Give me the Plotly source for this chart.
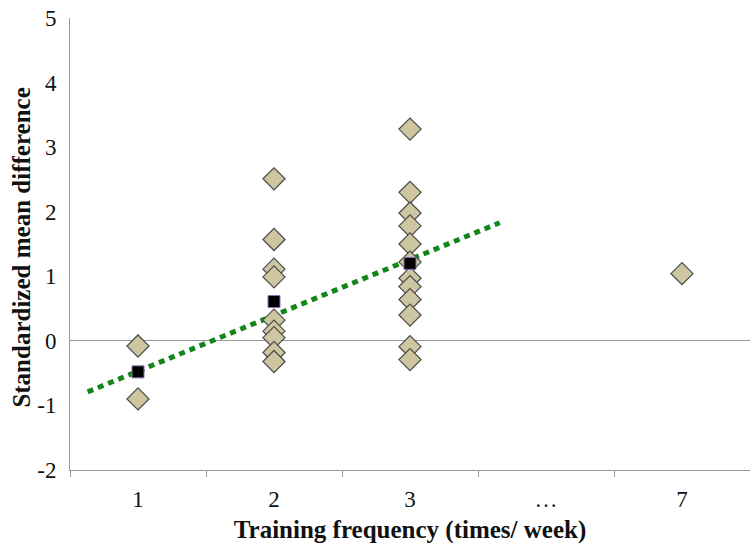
import plotly.graph_objects as go

categories = ["1", "2", "3", "…", "7"]
cat_pos = [1, 2, 3, 4, 5]
y_ticks = [-2, -1, 0, 1, 2, 3, 4, 5]
y_ticktext = ["-2", "-1", "0", "1", "2", "3", "4", "5"]

# individual study effects (diamonds)
d_x = [1, 1,
       2, 2, 2, 2, 2, 2, 2, 2, 2,
       3, 3, 3, 3, 3, 3, 3, 3, 3, 3, 3, 3,
       5]
d_y = [-0.08, -0.90,
       2.51, 1.57, 1.11, 0.99, 0.32, 0.15, 0.05, -0.18, -0.32,
       3.28, 2.30, 1.98, 1.78, 1.50, 1.22, 0.97, 0.84, 0.64, 0.40, -0.09, -0.29,
       1.04]

# mean per frequency (squares)
m_x = [1, 2, 3]
m_y = [-0.48, 0.61, 1.20]

# trend line
t_x = [0.63, 3.66]
t_y = [-0.79, 1.83]

fig = go.Figure()
fig.add_trace(go.Scatter(x=t_x, y=t_y, mode="lines",
                         line=dict(color="#13861a", width=5, dash="6px,5px"),
                         hoverinfo="skip"))
fig.add_trace(go.Scatter(x=d_x, y=d_y, mode="markers",
                         marker=dict(symbol="diamond", size=17, color="#cec6a1",
                                     line=dict(color="#4a4a4a", width=1.2))))
fig.add_trace(go.Scatter(x=m_x, y=m_y, mode="markers",
                         marker=dict(symbol="square", size=12, color="#000000",
                                     line=dict(color="#8a70b0", width=1))))

font = "Liberation Serif, Times New Roman, serif"
fig.update_layout(
    width=750, height=546,
    margin=dict(l=70, r=0, t=18, b=76),
    paper_bgcolor="white", plot_bgcolor="white",
    showlegend=False,
    font=dict(family=font, size=22, color="#111111"),
    xaxis=dict(range=[0.5, 5.5], tickmode="array", tickvals=cat_pos, ticktext=categories,
               tickfont=dict(size=23),
               ticks="outside", ticklen=8, tickcolor="rgba(0,0,0,0)",
               showline=True, linecolor="#999999", linewidth=1, showgrid=False,
               zeroline=False,
               minor=dict(tickmode="array", tickvals=[0.5, 1.5, 2.5, 3.5, 4.5],
                          ticks="outside", ticklen=6, tickcolor="#999999"),
               title=dict(text="<b>Training frequency (times/ week)</b>",
                          font=dict(size=25), standoff=9)),
    yaxis=dict(range=[-2, 5], tickmode="array", tickvals=y_ticks, ticktext=y_ticktext,
               tickfont=dict(size=23),
               ticks="outside", ticklen=8, tickcolor="rgba(0,0,0,0)",
               showline=True, linecolor="#999999", linewidth=1, showgrid=False,
               zeroline=True, zerolinecolor="#999999", zerolinewidth=1),
    annotations=[dict(text="<b>Standardized mean difference</b>", textangle=-90,
                      xref="paper", yref="paper", x=-0.0706, y=0.492,
                      xanchor="center", yanchor="middle", showarrow=False,
                      font=dict(size=25))],
)
fig.write_html("out.html")
